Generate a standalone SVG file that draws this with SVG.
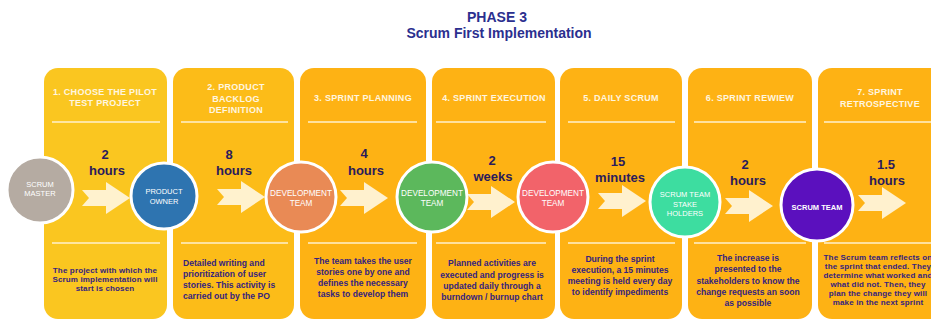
<svg xmlns="http://www.w3.org/2000/svg" width="931" height="322" viewBox="0 0 931 322">
<style>
.panel{stroke:none}
.div{stroke:#FFF1CC;stroke-width:1.5}
.hdr{font-family:"Liberation Sans",Arial,sans-serif;font-weight:bold;font-size:9px;fill:#FFF6E0;text-anchor:middle;letter-spacing:0.3px}
.dur{font-family:"Liberation Sans",Arial,sans-serif;font-weight:bold;font-size:13px;fill:#2B1B5C;text-anchor:middle}
.desc{font-family:"Liberation Sans",Arial,sans-serif;font-weight:bold;font-size:8.6px;fill:#35237F;text-anchor:middle}
.desc-s{font-family:"Liberation Sans",Arial,sans-serif;font-weight:bold;font-size:8px;fill:#35237F;text-anchor:middle;letter-spacing:0.15px}
.circ{stroke:#FFFFFF;stroke-width:3}
.ct{font-family:"Liberation Sans",Arial,sans-serif;font-size:7.5px;fill:#FFFFFF;text-anchor:middle}
.ctw{font-family:"Liberation Sans",Arial,sans-serif;font-size:8.2px;fill:#FFFFFF;text-anchor:middle}
.ctb{font-family:"Liberation Sans",Arial,sans-serif;font-size:7.5px;font-weight:bold;fill:#FFFFFF;text-anchor:middle}
.title{font-family:"Liberation Sans",Arial,sans-serif;font-weight:bold;font-size:14px;fill:#2B2F8F;text-anchor:middle}
.arrow{fill:#FFF4D8;opacity:0.95}
</style>
<defs>
<path id="arr" d="M0,-8 L24,-8 L24,-16 L48,0 L24,16 L24,8 L0,8 L7,0 Z"/>
</defs>
<rect width="931" height="322" fill="#FFFFFF"/>
<g id="title">
<text class="title" x="497" y="22">PHASE 3</text>
<text class="title" x="499" y="38">Scrum First Implementation</text>
</g>

<g id="step1">
<rect class="panel" x="44" y="68" width="123" height="251" rx="14" fill="#FAC620"/>
<line class="div" x1="52" y1="122" x2="160" y2="122"/>
<line class="div" x1="52" y1="243" x2="160" y2="243"/>
<text class="hdr" x="105" y="95">1. CHOOSE THE PILOT</text>
<text class="hdr" x="105" y="106">TEST PROJECT</text>
<text class="dur" x="105" y="159">2</text>
<text class="dur" x="107" y="175">hours</text>
<text class="desc-s" x="105" y="273">The project with which the</text>
<text class="desc-s" x="105" y="282">Scrum implementation will</text>
<text class="desc-s" x="105" y="291">start is chosen</text>
</g>

<g id="step2">
<rect class="panel" x="173" y="68" width="121" height="251" rx="14" fill="#FCBC18"/>
<line class="div" x1="181" y1="122" x2="288" y2="122"/>
<line class="div" x1="181" y1="243" x2="288" y2="243"/>
<text class="hdr" x="236" y="90">2.  PRODUCT</text>
<text class="hdr" x="236" y="102">BACKLOG</text>
<text class="hdr" x="236" y="113">DEFINITION</text>
<text class="dur" x="229" y="159">8</text>
<text class="dur" x="234" y="175">hours</text>
<text class="desc" x="183" y="266" style="text-anchor:start">Detailed writing and</text>
<text class="desc" x="183" y="277" style="text-anchor:start">prioritization of user</text>
<text class="desc" x="183" y="288" style="text-anchor:start">stories.  This activity is</text>
<text class="desc" x="183" y="299" style="text-anchor:start">carried out by the PO</text>
</g>

<g id="step3">
<rect class="panel" x="300" y="68" width="126" height="251" rx="14" fill="#FEB214"/>
<line class="div" x1="308" y1="122" x2="417" y2="122"/>
<line class="div" x1="308" y1="243" x2="417" y2="243"/>
<text class="hdr" x="363" y="101">3. SPRINT PLANNING</text>
<text class="dur" x="364" y="158">4</text>
<text class="dur" x="366" y="175">hours</text>
<text class="desc" x="363" y="264">The team takes the user</text>
<text class="desc" x="363" y="275">stories one by one and</text>
<text class="desc" x="363" y="286">defines the necessary</text>
<text class="desc" x="363" y="297">tasks to develop them</text>
</g>

<g id="step4">
<rect class="panel" x="432" y="68" width="123" height="251" rx="14" fill="#FEB214"/>
<line class="div" x1="436" y1="122" x2="546" y2="122"/>
<line class="div" x1="436" y1="243" x2="546" y2="243"/>
<text class="hdr" x="494" y="101">4.  SPRINT EXECUTION</text>
<text class="dur" x="492" y="165">2</text>
<text class="dur" x="493" y="181">weeks</text>
<text class="desc" x="492" y="266">Planned activities are</text>
<text class="desc" x="492" y="278">executed and progress is</text>
<text class="desc" x="492" y="289">updated daily through a</text>
<text class="desc" x="492" y="300">burndown / burnup chart</text>
</g>

<g id="step5">
<rect class="panel" x="560" y="68" width="122" height="251" rx="14" fill="#FEB214"/>
<line class="div" x1="568" y1="122" x2="675" y2="122"/>
<line class="div" x1="568" y1="243" x2="675" y2="243"/>
<text class="hdr" x="621" y="101">5. DAILY SCRUM</text>
<text class="dur" x="618" y="166">15</text>
<text class="dur" x="620" y="182">minutes</text>
<text class="desc" x="620" y="262">During the sprint</text>
<text class="desc" x="620" y="273">execution, a 15 minutes</text>
<text class="desc" x="620" y="284">meeting is held every day</text>
<text class="desc" x="620" y="295">to identify impediments</text>
</g>

<g id="step6">
<rect class="panel" x="688" y="68" width="124" height="251" rx="14" fill="#FEB214"/>
<line class="div" x1="694" y1="122" x2="806" y2="122"/>
<line class="div" x1="694" y1="243" x2="806" y2="243"/>
<text class="hdr" x="750" y="101">6.  SPRINT REWIEW</text>
<text class="dur" x="745" y="169">2</text>
<text class="dur" x="748" y="185">hours</text>
<text class="desc" x="748" y="261">The increase is</text>
<text class="desc" x="748" y="272">presented to the</text>
<text class="desc" x="748" y="284">stakeholders to know the</text>
<text class="desc" x="748" y="295">change requests an soon</text>
<text class="desc" x="748" y="306">as possible</text>
</g>

<g id="step7">
<rect class="panel" x="818" y="68" width="130" height="251" rx="14" fill="#FEB214"/>
<line class="div" x1="824" y1="122" x2="931" y2="122"/>
<line class="div" x1="824" y1="243" x2="931" y2="243"/>
<text class="hdr" x="880" y="95">7.  SPRINT</text>
<text class="hdr" x="880" y="107">RETROSPECTIVE</text>
<text class="dur" x="886" y="169">1.5</text>
<text class="dur" x="887" y="185">hours</text>
<text class="desc-s" x="878" y="260">The Scrum team reflects on</text>
<text class="desc-s" x="878" y="269">the sprint that ended. They</text>
<text class="desc-s" x="878" y="278">determine what worked and</text>
<text class="desc-s" x="878" y="287">what did not. Then, they</text>
<text class="desc-s" x="878" y="296">plan the change they will</text>
<text class="desc-s" x="878" y="305">make in the next sprint</text>
</g>

<g id="connectors">
<use href="#arr" class="arrow" transform="translate(82,198)"/>
<use href="#arr" class="arrow" transform="translate(217,197)"/>
<use href="#arr" class="arrow" transform="translate(340,198)"/>
<use href="#arr" class="arrow" transform="translate(467,202)"/>
<use href="#arr" class="arrow" transform="translate(598,201)"/>
<use href="#arr" class="arrow" transform="translate(725,206)"/>
<use href="#arr" class="arrow" transform="translate(858,203)"/>
</g>

<g id="scrum-master">
<circle class="circ" cx="40" cy="190" r="33" fill="#B5ABA2"/>
<text class="ct" x="40" y="187">SCRUM</text>
<text class="ct" x="40" y="196">MASTER</text>
</g>
<g id="product-owner">
<circle class="circ" cx="164" cy="196" r="33" fill="#2E74B0"/>
<text class="ct" x="164" y="194">PRODUCT</text>
<text class="ct" x="164" y="204">OWNER</text>
</g>
<g id="dev-team-1">
<circle class="circ" cx="301" cy="197" r="35" fill="#E98A55"/>
<text class="ctw" x="301" y="196">DEVELOPMENT</text>
<text class="ctw" x="301" y="206">TEAM</text>
</g>
<g id="dev-team-2">
<circle class="circ" cx="432" cy="197" r="35" fill="#5CB85C"/>
<text class="ctw" x="432" y="196">DEVELOPMENT</text>
<text class="ctw" x="432" y="206">TEAM</text>
</g>
<g id="dev-team-3">
<circle class="circ" cx="553" cy="197" r="35" fill="#F2636A"/>
<text class="ctw" x="553" y="196">DEVELOPMENT</text>
<text class="ctw" x="553" y="206">TEAM</text>
</g>
<g id="scrum-team-stakeholders">
<circle class="circ" cx="685" cy="202" r="35" fill="#3DDDA0"/>
<text class="ct" x="685" y="197">SCRUM  TEAM</text>
<text class="ct" x="685" y="207">STAKE</text>
<text class="ct" x="685" y="216">HOLDERS</text>
</g>
<g id="scrum-team">
<circle class="circ" cx="817" cy="205" r="36" fill="#5B10BE"/>
<text class="ctb" x="817" y="210">SCRUM TEAM</text>
</g>
</svg>
